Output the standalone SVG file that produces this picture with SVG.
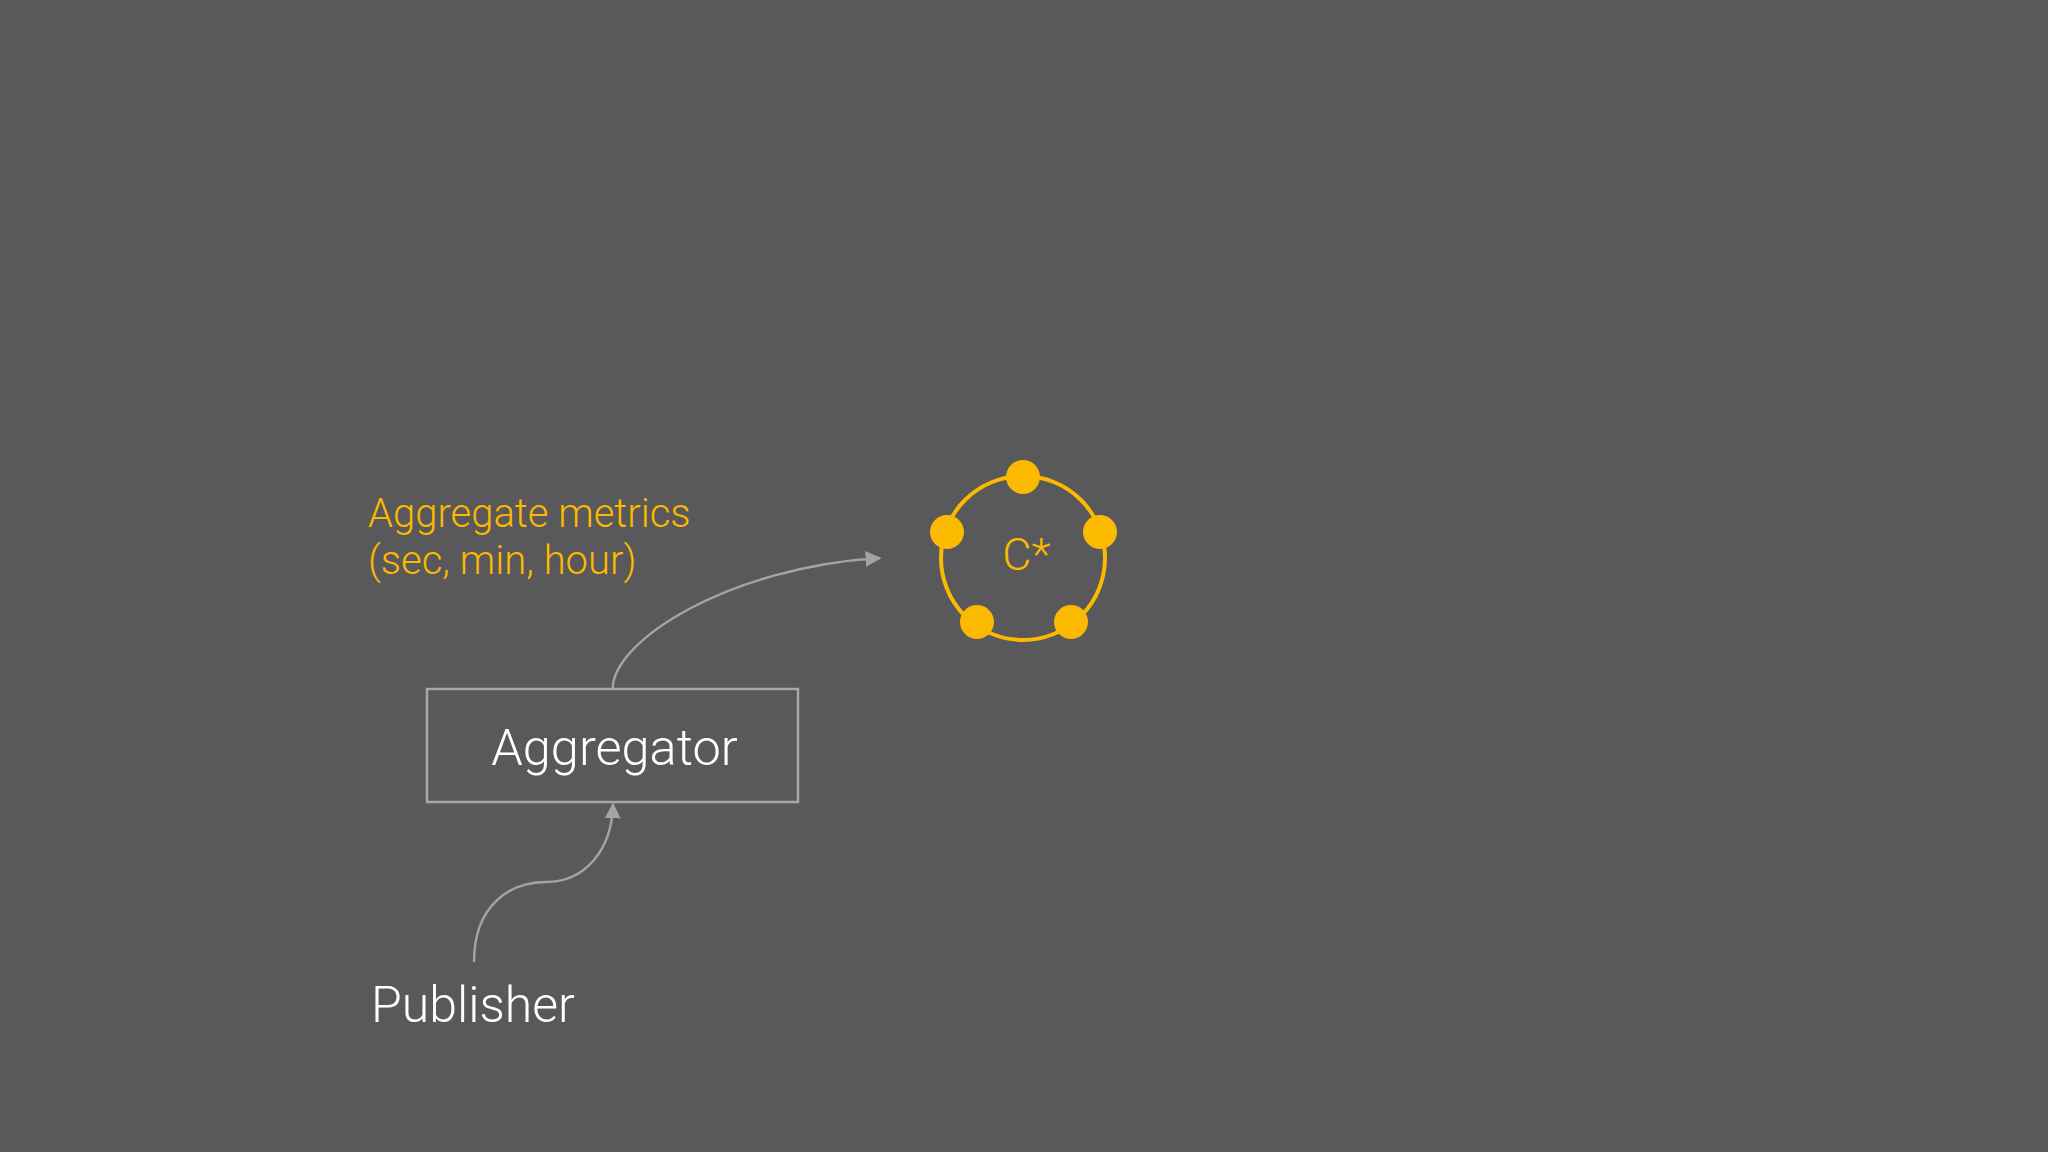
<svg xmlns="http://www.w3.org/2000/svg" width="2048" height="1152" viewBox="0 0 2048 1152">
<style>
.lbl{font-family:Roboto,"Liberation Sans",sans-serif;font-weight:300}
.conn{fill:none;stroke:#A3A3A5;stroke-width:2.5}
.gold{fill:#FBBA00}
</style>
<defs>
<marker id="arr" viewBox="0 0 10 10" refX="9" refY="5" markerWidth="16" markerHeight="16" markerUnits="userSpaceOnUse" orient="auto">
<path d="M0,0 L10,5 L0,10 Z" fill="#A3A3A5"/>
</marker>
</defs>
<rect width="2048" height="1152" fill="#59585A"/>
<g id="connectors">
<path class="conn" d="M612.7,689 C612.7,640 730,567 880,558" marker-end="url(#arr)"/>
<path class="conn" d="M474,962 C474,905 510,882 546,882 C585,882 612,850 613,804" marker-end="url(#arr)"/>
</g>
<g id="label-aggregate">
<text class="lbl" x="368" y="527" font-size="40" fill="#FBBA00">Aggregate metrics</text>
<text class="lbl" x="368" y="573.5" font-size="40" fill="#FBBA00">(sec, min, hour)</text>
</g>
<g id="aggregator">
<rect x="427" y="689" width="371" height="113" fill="none" stroke="#A8A8AA" stroke-width="2.5"/>
<text class="lbl" x="614.5" y="765" font-size="50.5" fill="#FFFFFF" text-anchor="middle">Aggregator</text>
</g>
<g id="publisher">
<text class="lbl" x="371" y="1021.5" font-size="50" fill="#FFFFFF">Publisher</text>
</g>
<g id="cassandra">
<circle cx="1023" cy="558" r="82" fill="none" stroke="#FBBA00" stroke-width="4"/>
<circle class="gold" cx="1023" cy="477" r="17"/>
<circle class="gold" cx="1100" cy="532" r="17"/>
<circle class="gold" cx="947" cy="532" r="17"/>
<circle class="gold" cx="977" cy="622" r="17"/>
<circle class="gold" cx="1071" cy="622" r="17"/>
<text class="lbl" x="1026.5" y="570" font-size="45" fill="#FBBA00" text-anchor="middle">C*</text>
</g>
</svg>
